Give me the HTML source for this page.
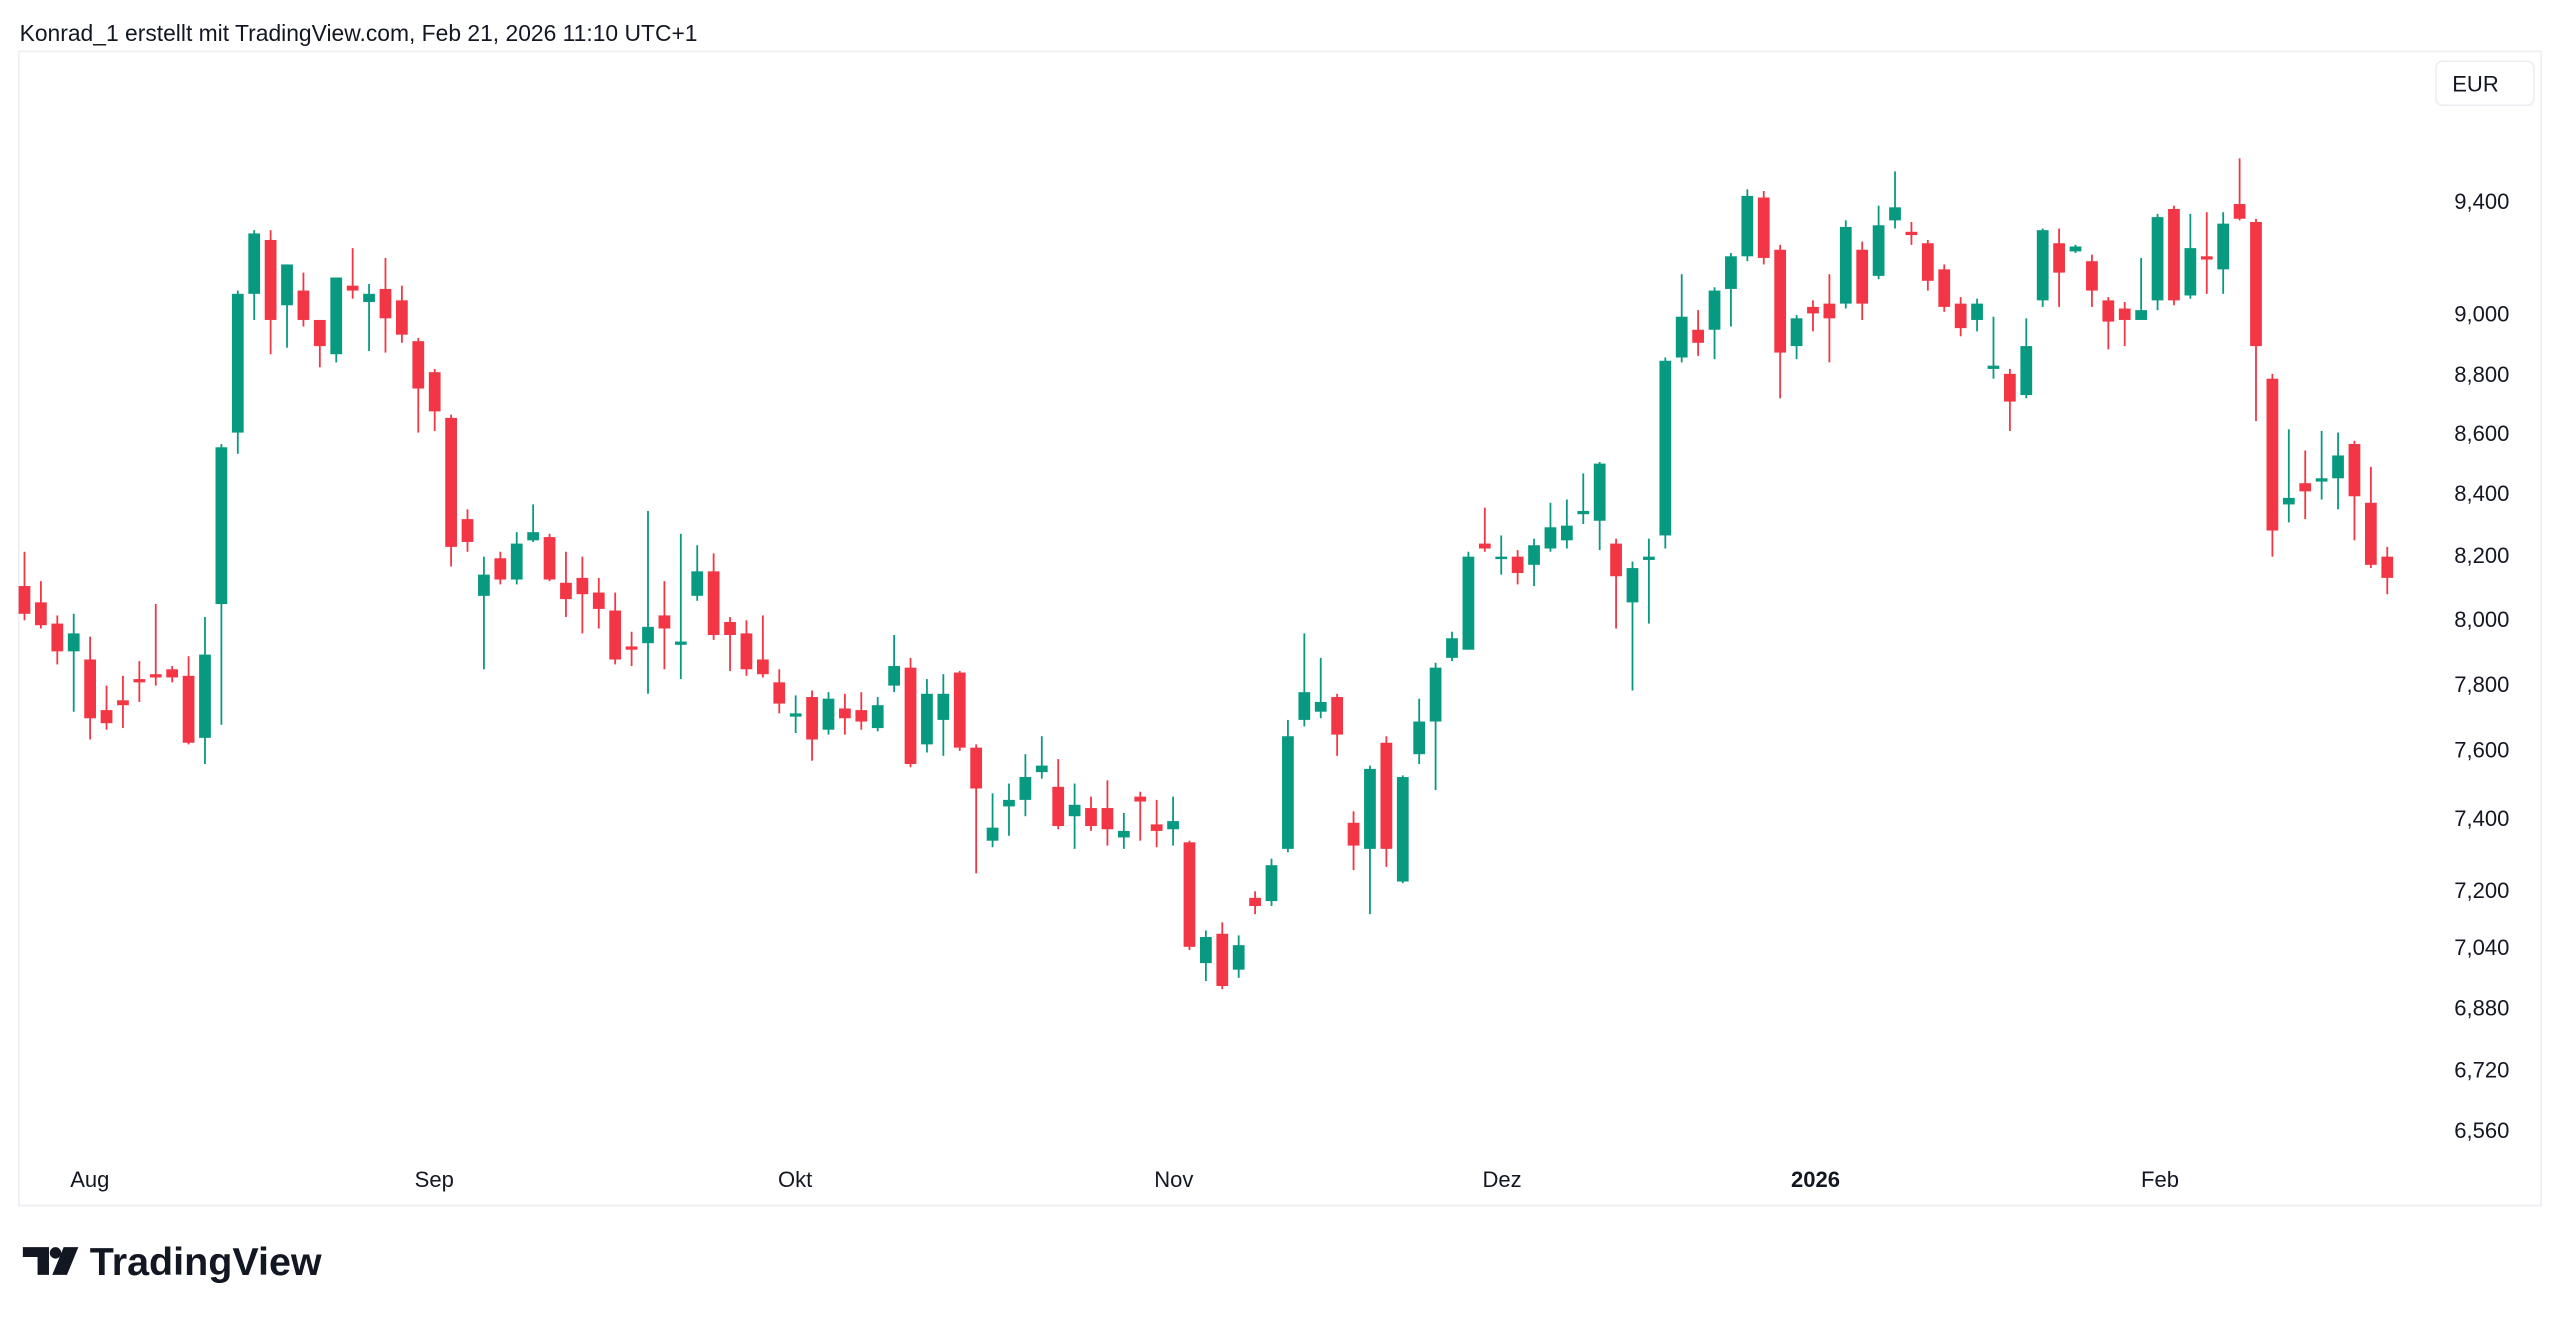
<!DOCTYPE html>
<html><head><meta charset="utf-8">
<style>
html,body{margin:0;padding:0;background:#fff;}
svg{display:block;}
text{font-family:"Liberation Sans",sans-serif;fill:#131722;}
</style></head>
<body>
<svg id="c" width="2560" height="1319" viewBox="0 0 1568 808" preserveAspectRatio="none" xmlns="http://www.w3.org/2000/svg">
<rect x="0" y="0" width="1568" height="808" fill="#fff"/>
<text x="12" y="25" font-size="14">Konrad_1 erstellt mit TradingView.com, Feb 21, 2026 11:10 UTC+1</text>
<rect x="11.5" y="31.5" width="1545" height="707" fill="none" stroke="#eceef2" stroke-width="1"/>
<rect x="1492" y="37.5" width="60" height="27" rx="4" fill="#fff" stroke="#eceef2"/>
<text x="1502" y="56" font-size="13.5">EUR</text>
<g font-size="13.5" text-anchor="end">
<text x="1537" y="128">9,400</text>
<text x="1537" y="197">9,000</text>
<text x="1537" y="234">8,800</text>
<text x="1537" y="270">8,600</text>
<text x="1537" y="307">8,400</text>
<text x="1537" y="345">8,200</text>
<text x="1537" y="384">8,000</text>
<text x="1537" y="424">7,800</text>
<text x="1537" y="464">7,600</text>
<text x="1537" y="506">7,400</text>
<text x="1537" y="550">7,200</text>
<text x="1537" y="585">7,040</text>
<text x="1537" y="622">6,880</text>
<text x="1537" y="660">6,720</text>
<text x="1537" y="697">6,560</text>
</g>
<g font-size="13.5" text-anchor="middle">
<text x="55" y="727">Aug</text>
<text x="266" y="727">Sep</text>
<text x="487" y="727">Okt</text>
<text x="719" y="727">Nov</text>
<text x="920" y="727">Dez</text>
<text x="1112" y="727" font-weight="bold">2026</text>
<text x="1323" y="727">Feb</text>
</g>
<g id="cand"></g>
<g fill="#131722">
<path d="M14 764 h16 v17 h-7 v-11 h-9z"/>
<circle cx="34" cy="767.5" r="3.5"/>
<path d="M39 764 h9 l-7 17 h-9z"/>
</g>
<text x="55" y="781" font-size="24" font-weight="bold" textLength="142" lengthAdjust="spacingAndGlyphs">TradingView</text>
</svg>
<script>
var d=[
["r",359,376,338,380],["r",369,383,356,385],["r",382,399,377,407],["g",388,399,376,436],["r",404,440,390,453],
["r",435,443,420,447],["r",429,432,414,446],["r",416,418,405,430],["r",413,415,370,420],["r",410,415,408,418],
["r",414,455,402,456],["g",401,452,378,468],["g",274,370,272,444],["g",180,265,178,278],["g",143,180,141,196],
["r",147,196,141,217],["g",162,187,162,213],["r",178,196,167,200],["r",196,212,196,225],["g",170,217,170,222],
["r",175,178,152,183],["g",180,185,174,215],["r",177,195,158,216],["r",184,205,175,210],["r",209,238,207,265],
["r",228,252,226,264],["r",256,335,254,347],["r",318,332,312,338],["g",352,365,341,410],["r",342,355,338,358],
["g",333,355,326,358],["g",326,331,309,332],["r",329,355,327,356],["r",357,367,338,378],["r",354,364,341,388],
["r",363,373,354,385],["r",374,404,363,407],["r",396,398,387,408],["g",384,394,313,425],["r",377,385,356,410],
["g",393,395,327,416],["g",350,365,334,368],["r",350,389,339,392],["r",381,389,378,411],["r",388,410,380,414],
["r",404,413,377,415],["r",418,431,410,437],["g",437,439,426,449],["r",427,453,423,466],["g",428,447,424,450],
["r",434,440,425,450],["r",435,442,424,447],["g",432,446,427,448],["g",408,420,389,424],["r",409,468,403,470],
["g",425,456,416,461],["g",425,441,413,463],["r",412,458,411,460],["r",458,483,456,535],["g",507,515,486,519],
["g",490,494,480,512],["g",476,490,462,500],["g",469,473,451,477],["r",482,506,465,508],["g",493,500,480,520],
["r",495,506,488,509],["r",495,508,478,518],["g",509,513,498,520],["r",488,491,485,515],["r",505,509,490,519],
["g",503,508,488,518],["r",516,580,515,582],["g",574,590,570,601],["r",572,604,565,606],["g",579,594,573,599],
["r",550,555,546,560],["g",530,552,526,555],["g",451,520,441,522],["g",424,441,388,445],["g",430,436,403,440],
["r",427,450,425,463],["r",504,518,497,533],["g",471,520,469,560],["r",455,520,451,531],["g",476,540,475,541],
["g",442,462,428,468],["g",409,442,406,484],["g",391,403,387,405],["g",341,398,338,398],["r",333,336,311,338],
["g",341,342,328,352],["r",341,351,337,358],["g",334,346,330,359],["g",323,336,308,338],["g",322,331,306,336],
["g",313,315,290,321],["g",284,319,283,337],["r",333,353,330,385],["g",348,369,344,423],["g",341,343,330,382],
["g",221,328,219,336],["g",194,219,168,222],["r",202,210,190,218],["g",178,202,176,220],["g",157,177,155,200],
["g",120,157,116,160],["r",121,158,117,162],["r",153,216,150,244],["g",195,212,193,220],["r",188,192,184,203],
["r",186,195,168,222],["g",139,186,135,189],["r",153,186,148,196],["g",138,169,126,171],["g",127,135,105,140],
["r",142,144,136,150],["r",149,172,147,178],["r",165,188,162,191],["r",186,201,182,206],["g",186,196,183,203],
["g",224,226,194,232],["r",229,246,226,264],["g",212,242,195,244],["g",141,184,140,188],["r",149,167,140,188],
["g",151,154,150,155],["r",160,178,156,188],["r",184,197,182,214],["r",189,196,185,212],["g",190,196,158,196],
["g",133,184,131,190],["r",128,184,126,187],["g",152,181,131,183],["r",157,159,130,180],["g",137,165,130,180],
["r",125,134,97,135],["r",136,212,134,258],["r",232,325,229,341],["g",305,309,263,320],["r",296,301,276,318],
["g",293,295,264,306],["g",279,293,265,312],["r",272,304,270,331],["r",308,346,286,348],["r",341,354,335,364]
];
var g=document.getElementById("cand"),h="";
for(var i=0;i<d.length;i++){
 var c=d[i],x=15+10.05*i,col=c[0]=="g"?"#089981":"#f23645";
 var bh=Math.max(c[2]-c[1],1.5);
 h+='<rect x="'+(x-0.55)+'" y="'+c[3]+'" width="1.1" height="'+(c[4]-c[3])+'" fill="'+col+'"/>';
 h+='<rect x="'+(x-3.6)+'" y="'+c[1]+'" width="7.2" height="'+bh+'" fill="'+col+'"/>';
}
g.innerHTML=h;
</script>
</body></html>
